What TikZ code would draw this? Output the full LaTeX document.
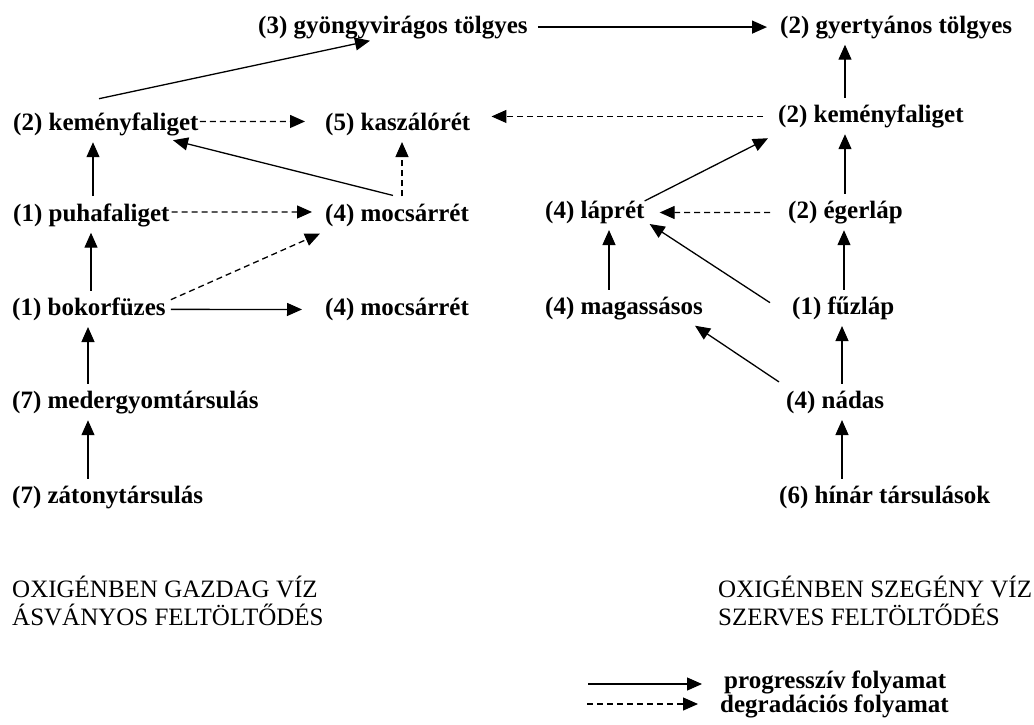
\documentclass[tikz,border=0pt]{standalone}
\usepackage{fontspec}
\setmainfont{Liberation Serif}
\usetikzlibrary{arrows.meta}

\begin{document}
\begin{tikzpicture}[x=1pt, y=-1pt,
  tars/.style={font=\bfseries\fontsize{25}{27}\selectfont, inner sep=0pt, anchor=base west},
  viz/.style={font=\fontsize{25}{27}\selectfont, inner sep=0pt, anchor=base west},
  prog/.style={line width=1.3pt, -{Triangle[length=15pt,width=13pt]}},
  degr/.style={prog, dash pattern=on 6pt off 4pt},
  fel/.style={shorten <=7pt, shorten >=6pt}]
\useasboundingbox (0,0) rectangle (1034,724);

% Tarsulasok
\node[tars] (gyongy)   at (258,33)    {(3) gyöngyvirágos tölgyes};
\node[tars] (gyertyan) at (780,33)    {(2) gyertyános tölgyes};
\node[tars] (kemenyB)  at (13,130.5)  {(2) keményfaliget};
\node[tars] (kaszalo)  at (325,130.5) {(5) kaszálórét};
\node[tars] (kemenyJ)  at (778,122.5) {(2) keményfaliget};
\node[tars] (puha)     at (13,221)    {(1) puhafaliget};
\node[tars] (mocsarF)  at (325,221)   {(4) mocsárrét};
\node[tars] (lapret)   at (545,218.5) {(4) láprét};
\node[tars] (eger)     at (788,218.5) {(2) égerláp};
\node[tars] (bokor)    at (12,315.5)  {(1) bokorfüzes};
\node[tars] (mocsarA)  at (325,315.5) {(4) mocsárrét};
\node[tars] (magas)    at (545,314.5) {(4) magassásos};
\node[tars] (fuzlap)   at (792,314.5) {(1) fűzláp};
\node[tars] (meder)    at (12,408.5)  {(7) medergyomtársulás};
\node[tars] (nadas)    at (786,408.5) {(4) nádas};
\node[tars] (zatony)   at (12,503.5)  {(7) zátonytársulás};
\node[tars] (hinar)    at (779,503.5) {(6) hínár társulások};

% Also felirat
\node[viz] (gazdag)  at (12,597)  {OXIGÉNBEN GAZDAG VÍZ};
\node[viz] (asvany)  at (12,625)  {ÁSVÁNYOS FELTÖLTŐDÉS};
\node[viz] (szegeny) at (718,597) {OXIGÉNBEN SZEGÉNY VÍZ};
\node[viz] (szerves) at (718,625) {SZERVES FELTÖLTŐDÉS};

% Bal oldal
\draw[prog, fel] ([xshift=76pt]zatony.north west) -- ([xshift=76pt]meder.south west);
\draw[prog, fel] ([xshift=76pt]meder.north west) -- ([xshift=76pt]bokor.south west);
\draw[prog, fel] ([xshift=79pt]bokor.north west) -- ([xshift=78pt]puha.south west);
\draw[prog, fel] ([xshift=80pt]puha.north west) -- ([xshift=80pt]kemenyB.south west);
\draw[degr, fel] ([xshift=77pt]mocsarF.north west) -- ([xshift=77pt]kaszalo.south west);
\draw[prog, shorten <=5pt, shorten >=23pt] (bokor.east) -- (mocsarA.west);
\draw[degr, shorten <=2pt, shorten >=13pt] ([yshift=3pt]puha.east) -- ([yshift=3pt]mocsarF.west);
\draw[degr, shorten <=1pt, shorten >=20pt] ([yshift=3pt]kemenyB.east) -- ([yshift=3pt]kaszalo.west);
\draw[degr] ([xshift=5pt,yshift=-2pt]bokor.north east) -- ([xshift=-5pt,yshift=-7pt]mocsarF.south west);
\draw[prog] ([xshift=68pt,yshift=8pt]mocsarF.north west) -- ([xshift=160pt,yshift=-4pt]kemenyB.south west);
\draw[prog] ([xshift=86pt,yshift=14pt]kemenyB.north west) -- ([xshift=112pt,yshift=-2pt]gyongy.south west);
\draw[prog, shorten <=10pt, shorten >=13pt] (gyongy.east) -- (gyertyan.west);

% Jobb oldal
\draw[prog, fel] ([xshift=63pt]hinar.north west) -- ([xshift=56pt]nadas.south west);
\draw[prog, fel] ([xshift=56pt]nadas.north west) -- ([xshift=50pt]fuzlap.south west);
\draw[prog, fel] ([xshift=52pt]fuzlap.north west) -- ([xshift=56pt]eger.south west);
\draw[prog, fel] ([xshift=57pt]eger.north west) -- ([xshift=67pt]kemenyJ.south west);
\draw[prog, fel] ([xshift=67pt]kemenyJ.north west) -- ([xshift=65pt]gyertyan.south west);
\draw[prog, fel] ([xshift=64pt]magas.north west) -- ([xshift=64pt]lapret.south west);
\draw[prog] ([xshift=-7pt,yshift=9pt]nadas.north west) -- ([xshift=-8pt,yshift=-5.5pt]magas.south east);
\draw[prog] ([xshift=-22pt,yshift=-6pt]fuzlap.north west) -- ([xshift=5pt]lapret.south east);
\draw[prog] (lapret.north east) -- ([xshift=-10pt,yshift=-10pt]kemenyJ.south west);
\draw[degr, shorten <=18pt, shorten >=15pt] (eger.west) -- (lapret.east);
\draw[degr, shorten <=15pt, shorten >=21pt] (kemenyJ.west) -- (kemenyJ.west -| kaszalo.east);

% Jelmagyarazat
\node[tars] (progT) at (724,688) {progresszív folyamat};
\node[tars] (degrT) at (720,712) {degradációs folyamat};
\coordinate (lgP) at (588,684);
\coordinate (lgD) at (587,704);
\draw[prog, shorten >=22pt] (lgP) -- (lgP -| progT.west);
\draw[degr, shorten >=22pt] (lgD) -- (lgD -| degrT.west);
\end{tikzpicture}
\end{document}
